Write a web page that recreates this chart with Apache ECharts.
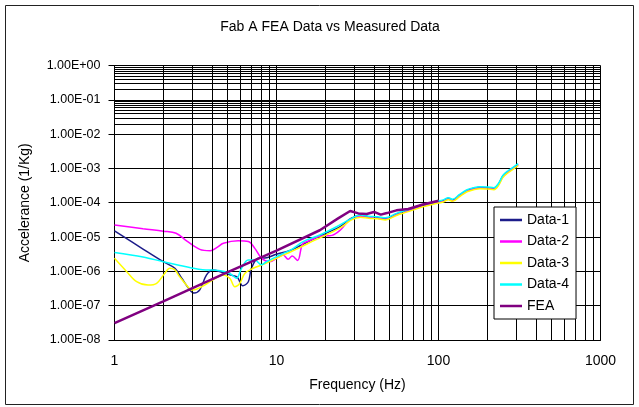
<!DOCTYPE html>
<html>
<head>
<meta charset="utf-8">
<script src="https://cdn.jsdelivr.net/npm/echarts@6/dist/echarts.min.js"></script>
<style>
  html, body { margin: 0; padding: 0; background: #fff; }
  #chart { width: 639px; height: 407px; }
</style>
</head>
<body>
<div id="chart"></div>
<script>
// Frequency (Hz) / accelerance (1/Kg) samples for each measured run and the FEA model
const freqD1 = [1, 1.5, 2, 2.36, 2.6, 2.92, 3.1, 3.36, 3.7, 4.06, 4.5, 5.15, 5.7, 6.2, 6.7, 7.0, 7.7, 8.7, 10, 12, 14, 17, 20, 25, 29,
  33, 37, 42, 47, 55, 65, 80, 100, 108, 115, 122, 135, 150, 165, 180, 200, 220, 235, 250, 270, 290, 310];
const valD1 = [1.51e-5, 4.47e-6, 1.91e-6, 1.23e-6, 6.3e-7, 2.88e-7, 2.34e-7, 2.88e-7, 7.9e-7, 1.10e-6, 9.8e-7, 7.9e-7, 6.9e-7, 3.8e-7, 5.0e-7, 1.23e-6, 2.4e-6, 2.5e-6, 3.16e-6, 4.0e-6, 5.6e-6, 8.9e-6, 1.26e-5, 2.09e-5, 3.55e-5,
  4.17e-5, 3.89e-5, 3.72e-5, 3.47e-5, 4.68e-5, 6.03e-5, 8.3e-5, 1.07e-4, 1.17e-4, 1.35e-4, 1.2e-4, 1.66e-4, 2.29e-4, 2.63e-4, 2.82e-4, 2.75e-4, 2.63e-4, 3.55e-4, 6.0e-4, 8.3e-4, 1.05e-3, 1.32e-3];

const freqD2 = [1, 1.5, 2, 2.4, 2.8, 3.36, 3.9, 4.3, 4.7, 5.8, 6.7, 7.35, 8.1, 9.1, 10, 11, 11.8, 12.5, 13.5, 14.5, 16, 18.5, 22, 25, 28,
  33, 37, 42, 47, 55, 65, 80, 100, 108, 115, 122, 135, 150, 165, 180, 200, 220, 235, 250, 270, 290, 310];
const valD2 = [2.24e-5, 1.74e-5, 1.48e-5, 1.29e-5, 7.6e-6, 4.37e-6, 3.98e-6, 5.0e-6, 6.6e-6, 7.8e-6, 7.4e-6, 4.68e-6, 2.4e-6, 1.91e-6, 2.4e-6, 3.0e-6, 2.24e-6, 2.82e-6, 2.09e-6, 6.3e-6, 7.9e-6, 1.05e-5, 1.12e-5, 1.66e-5, 3.0e-5,
  3.98e-5, 3.7e-5, 3.55e-5, 3.3e-5, 4.45e-5, 5.75e-5, 7.9e-5, 1.02e-4, 1.11e-4, 1.28e-4, 1.14e-4, 1.58e-4, 2.18e-4, 2.5e-4, 2.68e-4, 2.62e-4, 2.5e-4, 3.38e-4, 5.7e-4, 7.9e-4, 1.0e-3, 1.25e-3];

const freqD3 = [1, 1.19, 1.37, 1.61, 1.82, 2.04, 2.19, 2.35, 2.53, 2.78, 3.0, 3.2, 3.6, 4.2, 4.7, 5.15, 5.53, 5.93, 6.37, 7.17, 8.67, 10.5, 12, 14, 17, 20, 25, 29,
  33, 37, 42, 47, 55, 65, 80, 100, 108, 115, 122, 135, 150, 165, 180, 200, 220, 235, 250, 270, 290, 310];
const valD3 = [2.4e-6, 9.8e-7, 5.0e-7, 3.98e-7, 4.47e-7, 8.7e-7, 1.23e-6, 1.12e-6, 6.9e-7, 3.98e-7, 2.88e-7, 3.0e-7, 3.98e-7, 6.3e-7, 7.9e-7, 6.3e-7, 3.55e-7, 4.47e-7, 8.7e-7, 1.23e-6, 1.74e-6, 2.69e-6, 3.55e-6, 5.0e-6, 7.9e-6, 1.12e-5, 1.91e-5, 3.16e-5,
  3.8e-5, 3.55e-5, 3.4e-5, 3.16e-5, 4.27e-5, 5.5e-5, 7.6e-5, 9.8e-5, 1.07e-4, 1.23e-4, 1.1e-4, 1.51e-4, 2.09e-4, 2.4e-4, 2.57e-4, 2.51e-4, 2.4e-4, 3.24e-4, 5.5e-4, 7.6e-4, 9.6e-4, 1.2e-3];

const freqD4 = [1, 1.5, 2, 2.5, 3, 3.5, 4.5, 5.15, 5.66, 6.08, 6.68, 7.35, 8.07, 8.67, 10.5, 12.5, 14.6, 18.5, 23.5, 28,
  33, 37, 42, 47, 55, 65, 80, 100, 108, 115, 122, 135, 150, 165, 180, 200, 220, 235, 250, 270, 290, 310];
const valD4 = [3.55e-6, 2.63e-6, 1.91e-6, 1.51e-6, 1.26e-6, 1.12e-6, 1.05e-6, 8.7e-7, 6.3e-7, 1.23e-6, 2.14e-6, 2.14e-6, 1.55e-6, 1.91e-6, 3.0e-6, 4.47e-6, 7.4e-6, 1.15e-5, 2.0e-5, 3.16e-5,
  4.37e-5, 4.07e-5, 3.9e-5, 3.63e-5, 4.9e-5, 6.3e-5, 8.7e-5, 1.12e-4, 1.23e-4, 1.41e-4, 1.26e-4, 1.74e-4, 2.4e-4, 2.75e-4, 2.95e-4, 2.88e-4, 2.75e-4, 3.72e-4, 6.3e-4, 8.7e-4, 1.1e-3, 1.38e-3];

const freqFEA = [1, 2, 5, 10, 18.5, 24, 28.5, 32, 36, 40, 44, 48, 55, 65, 80, 100];
const valFEA = [3.1e-8, 1.33e-7, 9.5e-7, 4.0e-6, 1.58e-5, 3.5e-5, 5.75e-5, 4.9e-5, 4.7e-5, 5.4e-5, 4.5e-5, 5.0e-5, 6.0e-5, 6.6e-5, 8.9e-5, 1.15e-4];

// Axis decades and tick labels
const xTicks = [1, 10, 100, 1000];
const xTickLabels = ['1', '10', '100', '1000'];
const yTicks = [1e-8, 1e-7, 1e-6, 1e-5, 1e-4, 1e-3, 1e-2, 1e-1, 1];
const yTickLabels = ['1.00E-08', '1.00E-07', '1.00E-06', '1.00E-05', '1.00E-04', '1.00E-03', '1.00E-02', '1.00E-01', '1.00E+00'];

const seriesNames = ['Data-1', 'Data-2', 'Data-3', 'Data-4', 'FEA'];
const seriesColors = ['#1c1c8a', '#ff00ff', '#ffff00', '#00ffff', '#800080'];

function pairs(xs, ys) { return xs.map((x, i) => [x, ys[i]]); }
function nearestLabel(v, ticks, labels) {
  let best = 0;
  ticks.forEach((t, i) => {
    if (Math.abs(Math.log10(t) - Math.log10(v)) < Math.abs(Math.log10(ticks[best]) - Math.log10(v))) best = i;
  });
  return labels[best];
}

// Minor grid positions 2..9 inside each decade
const yMinor = [];
for (let d = 0; d < yTicks.length - 1; d++) for (let m = 2; m <= 9; m++) yMinor.push(+(m * yTicks[d]).toPrecision(3));
const xMinor = [];
for (let d = 0; d < xTicks.length - 1; d++) for (let m = 2; m <= 9; m++) xMinor.push(m * xTicks[d]);

const font = 'Arial, "Liberation Sans", sans-serif';
const chart = echarts.init(document.getElementById('chart'), null, { renderer: 'canvas' });

const dataSets = [pairs(freqD1, valD1), pairs(freqD2, valD2), pairs(freqD3, valD3), pairs(freqD4, valD4), pairs(freqFEA, valFEA)];

const series = [{
  name: 'grid-minor',
  type: 'line',
  data: [],
  silent: true,
  z: 1,
  markLine: {
    silent: true,
    symbol: 'none',
    label: { show: false },
    animation: false,
    lineStyle: { color: '#000', width: 1, type: 'solid' },
    data: yMinor.map(v => ({ yAxis: v })).concat(xMinor.map(v => ({ xAxis: v })))
  }
}];
seriesNames.forEach((name, i) => {
  const isFEA = name === 'FEA';
  series.push({
    name: name,
    type: 'line',
    data: dataSets[i],
    showSymbol: false,
    symbol: 'none',
    smooth: isFEA ? false : 0.35,
    z: 3 + i,
    lineStyle: { color: seriesColors[i], width: isFEA ? 2.5 : 1.5 },
    itemStyle: { color: seriesColors[i] }
  });
});

chart.setOption({
  animation: false,
  backgroundColor: '#fff',
  title: {
    text: 'Fab A FEA Data vs Measured Data',
    left: 325, top: 15, textAlign: 'center',
    textStyle: { fontFamily: font, fontSize: 14, fontWeight: 'normal', color: '#000' }
  },
  graphic: [{
    type: 'rect', silent: true, z: -10,
    shape: { x: 5.5, y: 5.5, width: 628, height: 399 },
    style: { fill: 'none', stroke: '#222', lineWidth: 1 }
  }],
  legend: {
    data: seriesNames.map(n => ({ name: n, icon: 'rect' })),
    orient: 'vertical',
    left: 494, top: 207,
    backgroundColor: '#fff',
    borderColor: '#000', borderWidth: 1,
    padding: [6, 7, 6, 6],
    itemWidth: 22, itemHeight: 2.5, itemGap: 7.5,
    textStyle: { fontFamily: font, fontSize: 14, color: '#000', lineHeight: 14 },
    z: 20
  },
  grid: { left: 114.5, right: 38.5, top: 65.5, bottom: 67, show: false },
  xAxis: {
    type: 'log', logBase: 10, min: 1, max: 1000,
    name: 'Frequency (Hz)', nameLocation: 'middle', nameGap: 38,
    nameTextStyle: { fontFamily: font, fontSize: 14, color: '#000' },
    axisLine: { show: true, lineStyle: { color: '#000', width: 1 } },
    axisTick: { show: false },
    axisLabel: {
      fontFamily: font, fontSize: 14, color: '#000', margin: 14,
      formatter: v => nearestLabel(v, xTicks, xTickLabels)
    },
    splitLine: { show: true, lineStyle: { color: '#000', width: 1 } }
  },
  yAxis: {
    type: 'log', logBase: 10, min: 1e-8, max: 1, interval: 1,
    name: 'Accelerance (1/Kg)', nameLocation: 'middle', nameGap: 82, nameRotate: 90,
    nameTextStyle: { fontFamily: font, fontSize: 14, color: '#000' },
    axisLine: { show: true, lineStyle: { color: '#000', width: 1 } },
    axisTick: { show: true, inside: false, length: 6, lineStyle: { color: '#000' } },
    axisLabel: {
      fontFamily: font, fontSize: 12.5, color: '#000', margin: 14,
      formatter: v => nearestLabel(v, yTicks, yTickLabels)
    },
    splitLine: { show: true, lineStyle: { color: '#000', width: 1 } }
  },
  series: series
});
</script>
</body>
</html>
